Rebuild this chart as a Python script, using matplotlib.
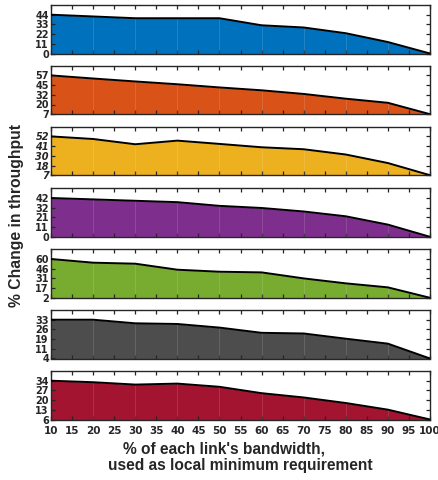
import numpy as np
import matplotlib
matplotlib.use("Agg")
import matplotlib.pyplot as plt

plt.rcParams['font.family'] = ['Liberation Sans', 'DejaVu Sans']

x_vals = [10, 20, 30, 40, 50, 60, 70, 80, 90, 100]
x_ticks = list(range(10, 101, 5))

series_1 = [44, 42, 40, 40, 40, 32, 29.5, 23, 13, 0]
series_2 = [57, 53, 49.2, 45.6, 41.5, 37.8, 33.1, 27, 21.7, 7]
series_3 = [52, 49, 42.9, 47.1, 43.3, 39.4, 37.1, 31, 21.1, 7]
series_4 = [42, 40.5, 39, 37.5, 33.5, 31.2, 27.4, 22.2, 13.2, 0]
series_5 = [60, 54.5, 53, 44, 41, 40, 31, 23.6, 17.6, 2]
series_6 = [33, 33, 30.3, 29.8, 27.1, 23.2, 22.7, 18.8, 15.1, 4]
series_7 = [34, 32.9, 31.2, 31.9, 29.6, 25, 21.9, 17.9, 13.1, 6]

all_series = [series_1, series_2, series_3, series_4, series_5, series_6, series_7]
colors = ['#0072BD', '#D95319', '#EDB120', '#7E2F8E', '#77AC30', '#4D4D4D', '#A2142F']
italic_panel = [False, False, True, False, False, False, False]

W, H = 438, 480
fig = plt.figure(figsize=(W / 100, H / 100), dpi=100)

panel_tops = [5, 65.7, 126.7, 188.3, 249.3, 310, 371]
panel_h = 48.5
left_px, right_px = 51, 430
tick_font = 'DejaVu Sans'

for i, (vals, col) in enumerate(zip(all_series, colors)):
    top = panel_tops[i]
    ax = fig.add_axes([left_px / W, 1 - (top + panel_h) / H,
                       (right_px - left_px) / W, panel_h / H])
    v = np.array(vals, dtype=float)
    vmin, vmax = v.min(), v.max()
    ax.fill_between(x_vals, vmin, v, color=col, linewidth=0, zorder=1)
    ax.vlines(x_vals[1:-1], vmin, v[1:-1], colors='white', alpha=0.15,
              linewidth=0.6, zorder=2)
    ax.plot(x_vals, v, color='black', linewidth=1.4, zorder=3)
    ax.set_xlim(10, 100)
    ax.set_ylim(vmin, vmin + (vmax - vmin) * 1.25)
    yt = np.linspace(vmin, vmax, 5)
    ax.set_yticks(yt)
    ax.set_yticklabels([str(int(np.floor(t + 0.5))) for t in yt],
                       fontweight='bold', fontsize=7, family=tick_font,
                       fontstyle='italic' if italic_panel[i] else 'normal')
    ax.set_xticks(x_ticks)
    if i == len(all_series) - 1:
        ax.set_xticklabels([str(t) for t in x_ticks], fontweight='bold',
                           fontsize=7.5, family=tick_font)
    else:
        ax.set_xticklabels([])
    ax.tick_params(direction='in', top=True, right=True, length=3,
                   width=0.9, pad=1.5, colors='#262626')
    ax.tick_params(axis='y', labelcolor='#262626')
    ax.tick_params(axis='x', pad=5)
    for s in ax.spines.values():
        s.set_linewidth(1.0)
        s.set_color('#262626')

fig.text(17 / W, 1 - 215 / H, '% Change in throughput', rotation=90,
         ha='center', va='center', fontsize=11.3, fontweight='bold', color='#262626')
fig.text(224 / W, 1 - 453 / H, "% of each link's bandwidth,", ha='center',
         va='baseline', fontsize=11.2, fontweight='bold', color='#262626')
fig.text(240 / W, 1 - 470 / H, 'used as local minimum requirement', ha='center',
         va='baseline', fontsize=11.2, fontweight='bold', color='#262626')

fig.savefig('out.png', dpi=100)
